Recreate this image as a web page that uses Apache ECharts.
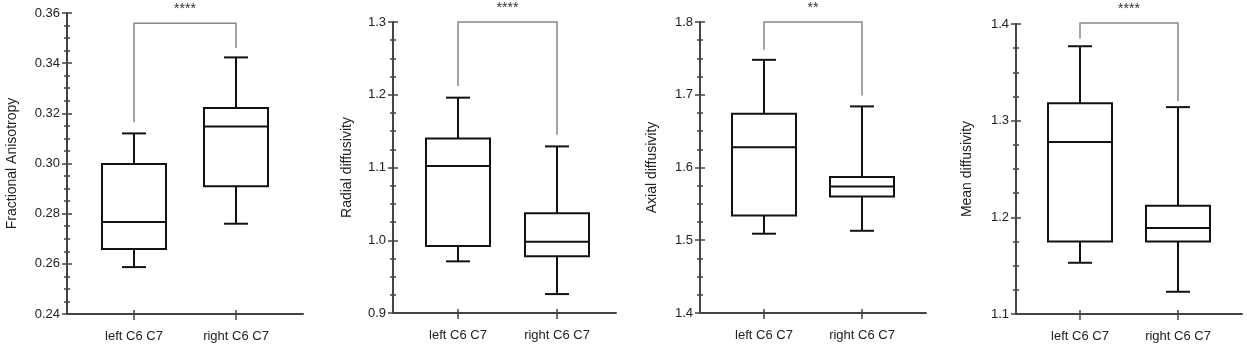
<!DOCTYPE html>
<html>
<head>
<meta charset="utf-8">
<script src="https://cdn.jsdelivr.net/npm/echarts@6/dist/echarts.min.js"></script>
<style>
  html, body { margin: 0; padding: 0; background: #fff; }
  #chart { width: 1247px; height: 350px; }
</style>
</head>
<body>
<div id="chart"></div>
<script>
// groups on the x axis
const categories = ['left C6 C7', 'right C6 C7'];

// box stats per group: [min, q1, median, q3, max]
const faBoxes = [[0.2587, 0.2659, 0.2767, 0.2998, 0.3120], [0.2760, 0.2909, 0.3148, 0.3221, 0.3423]];
const rdBoxes = [[0.971, 0.992, 1.102, 1.140, 1.196], [0.926, 0.978, 0.998, 1.037, 1.129]];
const adBoxes = [[1.509, 1.534, 1.628, 1.674, 1.748], [1.513, 1.560, 1.574, 1.587, 1.684]];
const mdBoxes = [[1.153, 1.175, 1.278, 1.318, 1.377], [1.123, 1.175, 1.189, 1.212, 1.314]];

// significance brackets: [left leg end, top, right leg end]
const faBracket = [0.3164, 0.3559, 0.3460];
const rdBracket = [1.212, 1.300, 1.145];
const adBracket = [1.762, 1.800, 1.699];
const mdBracket = [1.385, 1.401, 1.320];
const stars = ['****', '****', '**', '****'];

// axis names and ranges
const axisNames = ['Fractional Anisotropy', 'Radial diffusivity', 'Axial diffusivity', 'Mean diffusivity'];
const yMin = [0.24, 0.9, 1.4, 1.1];
const yMax = [0.36, 1.3, 1.8, 1.4];
const yStep = [0.02, 0.1, 0.1, 0.1];
const yDecimals = [2, 1, 1, 1];

const boxes = [faBoxes, rdBoxes, adBoxes, mdBoxes];
const brackets = [faBracket, rdBracket, adBracket, mdBracket];

// panel frames in px: axis left, top, width, height, name gap
const frames = [
  { left: 67, top: 13, width: 236, height: 301, gap: 48 },
  { left: 393, top: 22, width: 223, height: 291, gap: 39 },
  { left: 700, top: 22, width: 226, height: 291, gap: 41 },
  { left: 1016, top: 24, width: 226, height: 290, gap: 42 }
];
// first category centre and spacing between categories
const catPos = [
  { c: 134, d: 102 },
  { c: 458, d: 99 },
  { c: 764, d: 98 },
  { c: 1080, d: 98 }
];

const axisColor = '#444';
const textColor = '#222';
const font = 'Liberation Sans, Arial, sans-serif';

function renderBox(params, api) {
  const x = api.value(0);
  const lo = api.coord([x, api.value(1)]);
  const q1 = api.coord([x, api.value(2)]);
  const med = api.coord([x, api.value(3)]);
  const q3 = api.coord([x, api.value(4)]);
  const hi = api.coord([x, api.value(5)]);
  const cx = Math.round(lo[0]);
  const hw = 32;
  const cap = 12;
  const st = { stroke: '#111', lineWidth: 2, fill: null };
  return {
    type: 'group',
    children: [
      { type: 'line', shape: { x1: cx, y1: hi[1], x2: cx, y2: q3[1] }, style: st },
      { type: 'line', shape: { x1: cx, y1: q1[1], x2: cx, y2: lo[1] }, style: st },
      { type: 'line', shape: { x1: cx - cap, y1: hi[1], x2: cx + cap, y2: hi[1] }, style: st },
      { type: 'line', shape: { x1: cx - cap, y1: lo[1], x2: cx + cap, y2: lo[1] }, style: st },
      { type: 'rect', shape: { x: cx - hw, y: q3[1], width: 2 * hw, height: q1[1] - q3[1] }, style: { stroke: '#111', lineWidth: 2, fill: '#fff' } },
      { type: 'line', shape: { x1: cx - hw, y1: med[1], x2: cx + hw, y2: med[1] }, style: st }
    ]
  };
}

function makeBracketRenderer(label) {
  return function (params, api) {
    const a = api.coord([0, api.value(0)]);
    const t0 = api.coord([0, api.value(1)]);
    const t1 = api.coord([1, api.value(1)]);
    const b = api.coord([1, api.value(2)]);
    return {
      type: 'group',
      children: [
        {
          type: 'polyline',
          shape: { points: [a, t0, t1, b] },
          style: { stroke: '#888', lineWidth: 1.5, fill: null }
        },
        {
          type: 'text',
          style: {
            text: label,
            x: (t0[0] + t1[0]) / 2,
            y: t0[1] - 14,
            align: 'center',
            verticalAlign: 'middle',
            fontSize: 14,
            fontFamily: font,
            fill: '#333'
          }
        }
      ]
    };
  };
}

const grid = [];
const xAxis = [];
const yAxis = [];
const series = [];

for (let p = 0; p < 4; p++) {
  const f = frames[p];
  const cp = catPos[p];
  const g0 = grid.length;
  // frame grid: axis lines, y ticks and labels
  grid.push({ left: f.left, top: f.top, width: f.width, height: f.height });
  // data grid: category positions
  grid.push({ left: cp.c - cp.d / 2, top: f.top, width: cp.d * 2, height: f.height });

  xAxis.push({
    gridIndex: g0, type: 'value', min: 0, max: 1, position: 'bottom',
    axisLine: { show: true, onZero: false, lineStyle: { color: axisColor, width: 2 } },
    axisTick: { show: false }, axisLabel: { show: false }, splitLine: { show: false }
  });
  const catX = xAxis.length;
  xAxis.push({
    gridIndex: g0 + 1, type: 'category', data: categories, position: 'bottom',
    axisLine: { show: false, onZero: false },
    axisTick: { show: true, alignWithLabel: true, length: 6, lineStyle: { color: axisColor, width: 1.5 } },
    axisLabel: { interval: 0, margin: 16, fontSize: 13, color: textColor, fontFamily: font },
    splitLine: { show: false }
  });
  xAxis.push({
    gridIndex: g0 + 1, type: 'category', data: categories, position: 'bottom',
    axisLine: { show: false, onZero: false },
    axisTick: { show: true, inside: true, alignWithLabel: true, length: 4, lineStyle: { color: axisColor, width: 1.5 } },
    axisLabel: { show: false }, splitLine: { show: false }
  });

  const dec = yDecimals[p];
  yAxis.push({
    gridIndex: g0, type: 'value', position: 'left',
    min: yMin[p], max: yMax[p], interval: yStep[p],
    name: axisNames[p], nameLocation: 'middle', nameGap: f.gap,
    nameTextStyle: { fontSize: 14, color: textColor, fontFamily: font },
    axisLine: { show: true, onZero: false, lineStyle: { color: axisColor, width: 2 } },
    axisTick: { show: true, length: 5, lineStyle: { color: axisColor, width: 1.5 } },
    minorTick: { show: true, splitNumber: 4, length: 3, lineStyle: { color: axisColor, width: 1.5 } },
    axisLabel: { margin: 7, fontSize: 13, color: textColor, fontFamily: font, formatter: v => v.toFixed(dec) },
    splitLine: { show: false }, minorSplitLine: { show: false }
  });
  yAxis.push({
    gridIndex: g0, type: 'value', position: 'left', offset: 0,
    min: yMin[p], max: yMax[p], interval: yStep[p],
    axisLine: { show: false },
    axisTick: { show: true, inside: true, length: 5, lineStyle: { color: axisColor, width: 1.5 } },
    minorTick: { show: true, splitNumber: 4, length: 3, lineStyle: { color: axisColor, width: 1.5 } },
    axisLabel: { show: false }, splitLine: { show: false }, minorSplitLine: { show: false }
  });
  const dataY = yAxis.length;
  yAxis.push({
    gridIndex: g0 + 1, type: 'value', show: false,
    min: yMin[p], max: yMax[p], splitLine: { show: false }
  });

  series.push({
    type: 'custom',
    xAxisIndex: catX, yAxisIndex: dataY,
    clip: false,
    renderItem: renderBox,
    encode: { x: 0, y: [1, 2, 3, 4, 5] },
    data: boxes[p].map((b, i) => [i].concat(b))
  });
  series.push({
    type: 'custom',
    xAxisIndex: catX, yAxisIndex: dataY,
    clip: false,
    renderItem: makeBracketRenderer(stars[p]),
    encode: { y: [0, 1, 2] },
    data: [brackets[p]]
  });
}

const chart = echarts.init(document.getElementById('chart'));
chart.setOption({
  backgroundColor: '#fff',
  animation: false,
  grid: grid,
  xAxis: xAxis,
  yAxis: yAxis,
  series: series
});
</script>
</body>
</html>
